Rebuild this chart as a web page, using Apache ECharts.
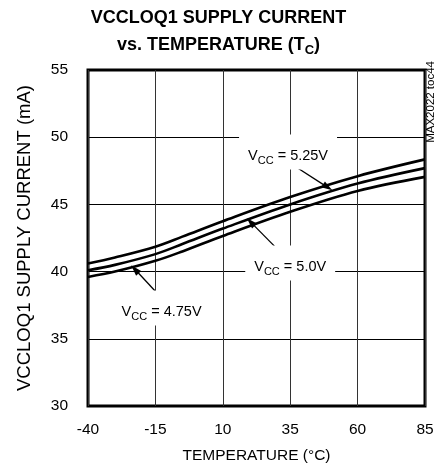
<!DOCTYPE html>
<html><head><meta charset="utf-8">
<script src="https://cdn.jsdelivr.net/npm/echarts@6/dist/echarts.min.js"></script>
<style>html,body{margin:0;padding:0;background:#fff}#c{width:437px;height:470px}</style>
</head><body><div id="c"></div>
<script>
const temps = [-40, -30, -15, -5, 10, 35, 60, 85];
const vcc525 = [40.6, 41.05, 41.85, 42.6, 43.75, 45.55, 47.1, 48.35];
const vcc500 = [40.1, 40.5, 41.3, 42.05, 43.2, 45.0, 46.55, 47.7];
const vcc475 = [39.6, 40.0, 40.8, 41.5, 42.65, 44.45, 46.0, 47.05];
const xTicks = [-40, -15, 10, 35, 60, 85];
const yTicks = [30, 35, 40, 45, 50, 55];

const FONT = '"Liberation Sans", Arial, sans-serif';
const chart = echarts.init(document.getElementById('c'));
const pair = (xs, ys) => xs.map((x, i) => [x, ys[i]]);
const lineSeries = (name, ys) => ({
  name, type: 'line', data: pair(temps, ys), smooth: 0.35, showSymbol: false,
  lineStyle: { color: '#000', width: 2.6 }, z: 5, animation: false
});
const rich = {
  v: { fontFamily: FONT, fontSize: 14.5, color: '#000', lineHeight: 20, verticalAlign: 'bottom' },
  s: { fontFamily: FONT, fontSize: 11, color: '#000', lineHeight: 20, verticalAlign: 'bottom', padding: [0, 0, -3, 0] }
};
const note = (x, y, val) => ({
  coord: [x, y], symbolSize: 0,
  label: { show: true, position: 'inside', formatter: '{v|V}{s|CC}{v| = ' + val + '}', rich,
    backgroundColor: '#fff', padding: [9, 9, 6, 9] }
});
const arrow = (x1, y1, x2, y2) => [{ coord: [x1, y1] }, { coord: [x2, y2] }];

chart.setOption({
  animation: false,
  graphic: [
    { type: 'text', left: 'center', top: 9, style: { text: 'VCCLOQ1 SUPPLY CURRENT', font: 'bold 18px ' + FONT, fill: '#000' } },
    { type: 'text', left: 'center', top: 36, style: { text: '{b|vs. TEMPERATURE (T}{bs|C}{b|)}', rich: {
        b: { font: 'bold 18px ' + FONT, fill: '#000', lineHeight: 24, verticalAlign: 'bottom' },
        bs: { font: 'bold 13px ' + FONT, fill: '#000', lineHeight: 24, verticalAlign: 'bottom', padding: [0, 0, -3, 0] } } } },
    { type: 'text', right: 0, top: 61, rotation: Math.PI / 2, style: { text: 'MAX2022 toc44', font: '11.5px ' + FONT, fill: '#000' } }
  ],
  grid: { left: 88, top: 70, width: 337, height: 336, show: true, borderColor: '#000', borderWidth: 3 },
  xAxis: {
    type: 'value', min: -40, max: 85, interval: 25,
    name: 'TEMPERATURE (°C)', nameLocation: 'middle', nameGap: 42,
    nameTextStyle: { fontFamily: FONT, fontSize: 15.5, color: '#000' },
    axisLine: { show: false }, axisTick: { show: false },
    axisLabel: { fontFamily: FONT, fontSize: 15.5, color: '#000', margin: 16 },
    splitLine: { show: true, lineStyle: { color: '#333', width: 1 } }
  },
  yAxis: {
    type: 'value', min: 30, max: 55, interval: 5,
    name: 'VCCLOQ1 SUPPLY CURRENT (mA)', nameLocation: 'middle', nameGap: 54,
    nameTextStyle: { fontFamily: FONT, fontSize: 18.5, color: '#000' },
    axisLine: { show: false }, axisTick: { show: false },
    axisLabel: { fontFamily: FONT, fontSize: 15.5, color: '#000', margin: 20 },
    splitLine: { show: true, lineStyle: { color: '#000', width: 1 } }
  },
  series: [
    lineSeries('5.25V', vcc525),
    lineSeries('5.0V', vcc500),
    lineSeries('4.75V', vcc475),
    {
      type: 'line', data: [], z: 4, animation: false,
      markPoint: { symbol: 'rect', data: [note(34.2, 48.9, '5.25V'), note(35, 40.64, '5.0V'), note(-12.7, 37.3, '4.75V')] },
      markLine: { silent: true, symbol: ['none', 'triangle'], symbolSize: [7, 11], label: { show: false },
        lineStyle: { color: '#000', width: 1.3, type: 'solid' },
        data: [arrow(36.6, 47.86, 48.9, 46.27), arrow(30.8, 41.56, 20.35, 43.68), arrow(-14.5, 38.43, -22.6, 40.17)] }
    }
  ]
});
</script></body></html>
